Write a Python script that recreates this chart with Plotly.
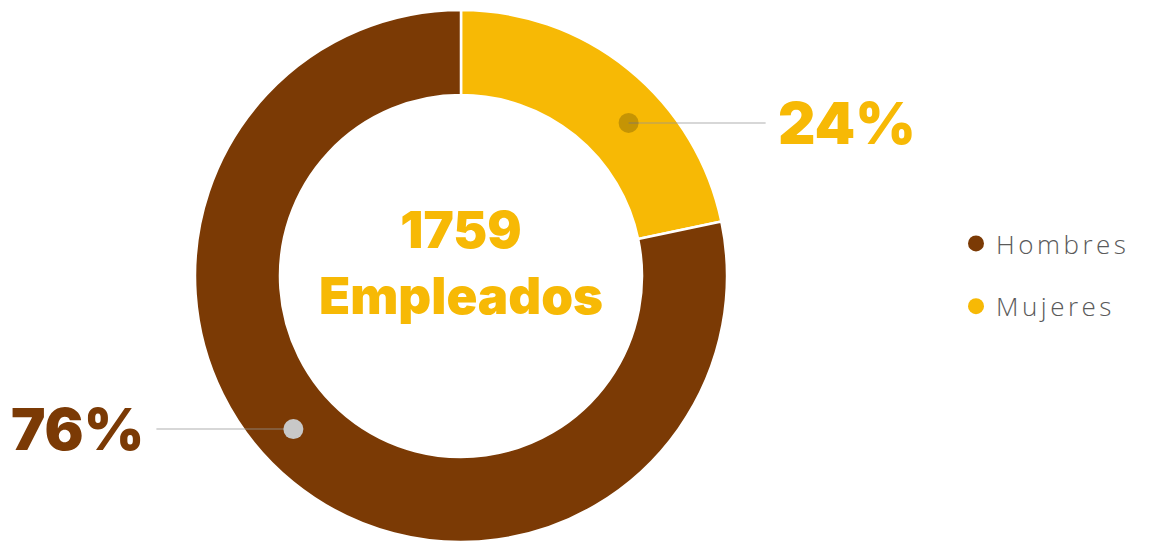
import math
import plotly.graph_objects as go

# ---- data ----
categories = ["Hombres", "Mujeres"]
employees = [1377, 382]           # drawn slice sizes (sum 1759)
pct_labels = ["76%", "24%"]
total_label = "1759"
total_caption = "Empleados"
colors = ["#7B3A05", "#F7B905"]
dot_colors = ["#C8C8C8", "rgba(0,0,0,0.2)"]

W, H = 1152, 545
CX, CY = 461, 276
R_OUT = 266
R_IN = 181
LABEL_ROT = 8.5       # label angular offset (deg)
DOT_R = 227
LINE_LEN = 137
TEXT_GAP = 10
FONT = "Inter"

# pie order: Mujeres first (starts at 12 o'clock, clockwise)
pie_order = [1, 0]
pie_labels = [categories[i] for i in pie_order]
pie_values = [employees[i] for i in pie_order]
pie_colors = [colors[i] for i in pie_order]

fig = go.Figure()
fig.add_trace(go.Pie(
    labels=pie_labels, values=pie_values, sort=False, direction="clockwise",
    rotation=0, hole=R_IN / R_OUT, textinfo="none", hoverinfo="label+value",
    marker=dict(colors=pie_colors, line=dict(color="white", width=2.5)),
    showlegend=False,
    domain=dict(x=[(CX - R_OUT) / W, (CX + R_OUT) / W],
                y=[(H - CY - R_OUT) / H, (H - CY + R_OUT) / H]),
))

# legend entries
for name, col in zip(categories, colors):
    fig.add_trace(go.Scatter(x=[None], y=[None], mode="markers", name=name,
                             legendgroup=name,
                             marker=dict(size=22, color=col, symbol="circle")))

def px2paper(x, y):
    return x / W, 1 - y / H

shapes, annotations = [], []
tot = sum(pie_values)
cum = 0
for lab, v in zip(pie_labels, pie_values):
    i = categories.index(lab)
    a = math.radians((cum + v / 2) / tot * 360 + LABEL_ROT)
    cum += v
    dx, dy = CX + DOT_R * math.sin(a), CY - DOT_R * math.cos(a)
    side = 1 if math.sin(a) > 0 else -1
    xe = dx + side * LINE_LEN
    x0p, y0p = px2paper(dx, dy)
    x1p, _ = px2paper(xe, dy)
    shapes.append(dict(type="line", xref="paper", yref="paper", x0=x0p, x1=x1p,
                       y0=y0p, y1=y0p, line=dict(color="rgba(150,150,150,0.5)", width=1.5),
                       layer="above"))
    shapes.append(dict(type="circle", xref="paper", yref="paper",
                       xsizemode="pixel", ysizemode="pixel", xanchor=x0p, yanchor=y0p,
                       x0=-10, x1=10, y0=-10, y1=10, fillcolor=dot_colors[i],
                       line=dict(width=0), layer="above"))
    tx, _ = px2paper(xe + side * TEXT_GAP, dy)
    annotations.append(dict(x=tx, y=y0p, xref="paper", yref="paper", text=pct_labels[i],
                            showarrow=False, xanchor="left" if side > 0 else "right",
                            yanchor="middle",
                            font=dict(family=FONT, size=58, color=colors[i], weight=900)))

cx_p, _ = px2paper(CX, 0)
annotations.append(dict(x=cx_p, y=px2paper(0, 262)[1], xref="paper", yref="paper",
                        text=total_label + "<br>" + total_caption, showarrow=False,
                        yanchor="middle",
                        font=dict(family=FONT, size=51, color=colors[1], weight=900)))

fig.update_layout(
    width=W, height=H, margin=dict(l=0, r=0, t=0, b=0),
    paper_bgcolor="white", plot_bgcolor="white",
    xaxis=dict(visible=False), yaxis=dict(visible=False),
    shapes=shapes, annotations=annotations,
    legend=dict(x=956 / W, y=1 - 220 / H, xanchor="left", yanchor="top",
                font=dict(family="Open Sans", size=26, color="#5A5A5A", weight=300),
                tracegroupgap=26, itemwidth=30, bgcolor="rgba(0,0,0,0)"),
)

post = ("var s=document.createElement('style');"
        "s.innerHTML='body{margin:0;padding:0}.legendtext{letter-spacing:3.5px}"
        ".legend .scrollbox{clip-path:none !important}"
        ".legend .legendpoints path{stroke-width:0}';"
        "document.head.appendChild(s);")
fig.write_html("out.html", post_script=post, config={"displayModeBar": False})
